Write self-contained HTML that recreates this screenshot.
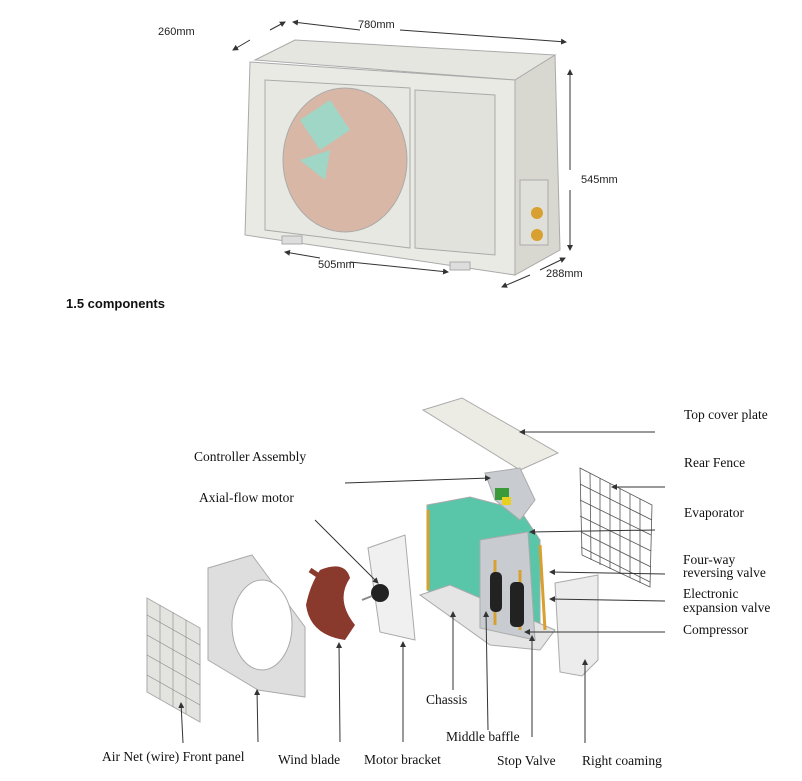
<!DOCTYPE html>
<html><head><meta charset="utf-8"><style>
body{margin:0;background:#fff}
svg{display:block}
.s{font-family:"Liberation Sans",sans-serif;font-size:11px;fill:#222}
.r{font-family:"Liberation Serif",serif;font-size:13.5px;fill:#111}
</style></head><body>
<svg width="802" height="781" viewBox="0 0 802 781">
<defs><marker id="a" markerWidth="6" markerHeight="6" refX="5" refY="3" orient="auto"><path d="M0,0 L6,3 L0,6z" fill="#333"/></marker></defs>
<!-- top unit -->
<g stroke="#aaa" stroke-width="1">
<polygon points="255,60 295,40 555,55 515,80" fill="#e6e6e0"/>
<polygon points="515,80 555,55 560,250 515,275" fill="#d8d8d0"/>
<polygon points="250,62 515,80 515,275 245,235" fill="#eaeae4"/>
<polygon points="265,80 410,88 410,248 265,230" fill="#e8e8e2"/>
<ellipse cx="345" cy="160" rx="62" ry="72" fill="#d9b7a6"/>
<polygon points="415,90 495,95 495,255 415,248" fill="#e2e2dc"/>
<rect x="520" y="180" width="28" height="65" fill="#e0e0da"/>
<rect x="282" y="236" width="20" height="8" fill="#ddd"/>
<rect x="450" y="262" width="20" height="8" fill="#ddd"/>
</g>
<path d="M300,120 L330,100 L350,130 L320,150z" fill="#9fd6c6"/>
<path d="M300,160 L330,150 L325,180z" fill="#9fd6c6"/>
<circle cx="537" cy="213" r="6" fill="#d8a030"/><circle cx="537" cy="235" r="6" fill="#d8a030"/>
<g stroke="#333" stroke-width="1" marker-end="url(#a)" fill="none">
<line x1="360" y1="30" x2="293" y2="22"/><line x1="400" y1="30" x2="566" y2="42"/>
<line x1="250" y1="40" x2="233" y2="50"/><line x1="270" y1="30" x2="285" y2="22"/>
<line x1="570" y1="170" x2="570" y2="70"/><line x1="570" y1="190" x2="570" y2="250"/>
<line x1="320" y1="258" x2="285" y2="252"/><line x1="350" y1="262" x2="448" y2="272"/>
<line x1="530" y1="275" x2="502" y2="287"/><line x1="540" y1="270" x2="565" y2="258"/>
</g>
<text class="s" x="358" y="28">780mm</text>
<text class="s" x="158" y="35">260mm</text>
<text class="s" x="581" y="183">545mm</text>
<text class="s" x="318" y="268">505mm</text>
<text class="s" x="546" y="277">288mm</text>
<text x="66" y="308" font-family="Liberation Sans,sans-serif" font-size="13" font-weight="bold" fill="#111">1.5 components</text>
<!-- exploded parts -->
<g stroke="#aaa">
<polygon points="423,410 462,398 558,453 520,470" fill="#ecece4"/>
<polygon points="147,598 200,628 200,722 147,692" fill="#e3e3df"/>
<polygon points="208,568 252,555 305,627 305,697 258,690 208,660" fill="#dedede"/>
<ellipse cx="262" cy="625" rx="30" ry="45" fill="#fff"/>
<polygon points="368,548 405,535 415,640 380,632" fill="#f0f0f0"/>
<polygon points="427,505 470,497 520,510 540,540 540,625 500,640 427,590" fill="#59c6a9"/>
<polygon points="420,595 450,585 555,630 540,650 490,645" fill="#e5e5e5"/>
<polygon points="480,540 528,532 535,640 480,628" fill="#c8ccd0"/>
<polygon points="485,473 520,468 535,500 520,520 495,500" fill="#c8ccd0"/>
<polygon points="555,583 598,575 598,660 582,676 560,672" fill="#ececec"/>
</g>
<g stroke="#888" stroke-width="0.6">
<path d="M147,615 L200,645 M147,635 L200,665 M147,655 L200,685 M147,675 L200,705 M160,605 L160,699 M173,612 L173,707 M186,620 L186,714"/>
</g>
<g stroke="#555" stroke-width="0.8" fill="none">
<polygon points="580,468 652,505 650,587 582,555"/>
<path d="M590,473 L591,560 M600,478 L600,565 M610,483 L610,569 M620,488 L620,574 M630,494 L630,578 M640,499 L640,583 M580,484 L652,520 M580,500 L651,535 M580,516 L651,551 M581,532 L651,567 M581,547 L650,582"/>
</g>
<g stroke="#d8a030" stroke-width="3" fill="none"><path d="M428,510 L428,590"/><path d="M540,545 L545,630 M495,560 L495,625 M520,570 L520,630"/></g>
<rect x="495" y="488" width="14" height="12" fill="#3a9a3a"/><rect x="502" y="497" width="9" height="8" fill="#e8d020"/>
<path d="M320,570 Q345,560 350,578 Q335,600 355,625 L345,640 Q310,635 306,605 Q310,585 320,570z" fill="#8a3a2c"/>
<path d="M310,570 L325,580" stroke="#8a3a2c" stroke-width="5"/>
<circle cx="380" cy="593" r="9" fill="#222"/><line x1="362" y1="600" x2="372" y2="596" stroke="#888" stroke-width="2"/>
<rect x="490" y="572" width="12" height="40" rx="5" fill="#222"/><rect x="510" y="582" width="14" height="45" rx="5" fill="#222"/>
<g stroke="#333" stroke-width="1" fill="none" marker-end="url(#a)">
<line x1="655" y1="432" x2="520" y2="432"/>
<line x1="345" y1="483" x2="490" y2="478"/>
<line x1="315" y1="520" x2="378" y2="583"/>
<line x1="665" y1="487" x2="612" y2="487"/>
<line x1="655" y1="530" x2="530" y2="532"/>
<line x1="665" y1="574" x2="550" y2="572"/>
<line x1="665" y1="601" x2="550" y2="599"/>
<line x1="665" y1="632" x2="525" y2="632"/>
<line x1="183" y1="743" x2="181" y2="703"/>
<line x1="258" y1="742" x2="257" y2="690"/>
<line x1="340" y1="742" x2="339" y2="643"/>
<line x1="403" y1="742" x2="403" y2="642"/>
<line x1="453" y1="690" x2="453" y2="612"/>
<line x1="488" y1="730" x2="486" y2="612"/>
<line x1="532" y1="737" x2="532" y2="636"/>
<line x1="585" y1="743" x2="585" y2="660"/>
</g>
<text class="r" x="684" y="419">Top cover plate</text>
<text class="r" x="684" y="467">Rear Fence</text>
<text class="r" x="194" y="461">Controller Assembly</text>
<text class="r" x="199" y="502">Axial-flow motor</text>
<text class="r" x="684" y="517">Evaporator</text>
<text class="r" x="683" y="564">Four-way</text>
<text class="r" x="683" y="577">reversing valve</text>
<text class="r" x="683" y="598">Electronic</text>
<text class="r" x="683" y="612">expansion valve</text>
<text class="r" x="683" y="634">Compressor</text>
<text class="r" x="426" y="704">Chassis</text>
<text class="r" x="446" y="741">Middle baffle</text>
<text class="r" x="102" y="761">Air Net (wire) Front panel</text>
<text class="r" x="278" y="764">Wind blade</text>
<text class="r" x="364" y="764">Motor bracket</text>
<text class="r" x="497" y="765">Stop Valve</text>
<text class="r" x="582" y="765">Right coaming</text>
</svg>
</body></html>
